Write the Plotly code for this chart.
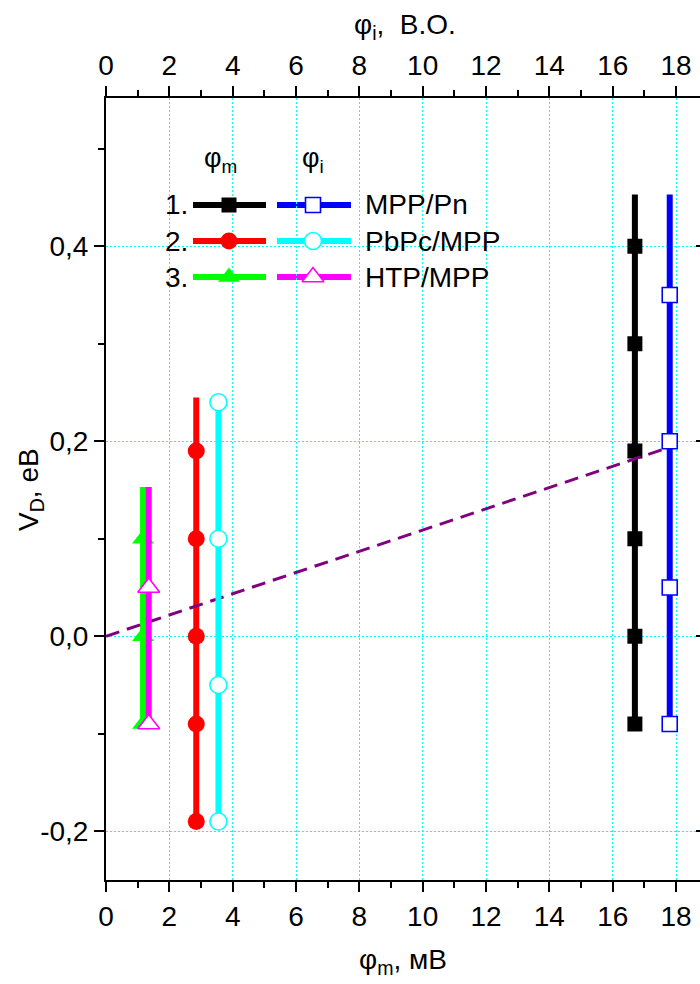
import plotly.graph_objects as go

# ---------------- data ----------------
# phi_m series (bottom axis, filled markers)
m_names = ["1.", "2.", "3."]
m_x = [16.7, 2.85, 1.17]
m_vals = [
    [0.40, 0.30, 0.19, 0.10, 0.00, -0.09],
    [0.19, 0.10, 0.00, -0.09, -0.19],
    [0.10, 0.00, -0.09],
]
m_top = [0.453, 0.245, 0.153]

# phi_i series (top axis, hollow markers)
i_labels = ["MPP/Pn", "PbPc/MPP", "HTP/MPP"]
i_x = [17.8, 3.55, 1.35]
i_vals = [
    [0.35, 0.20, 0.05, -0.09],
    [0.24, 0.10, -0.05, -0.19],
    [0.05, -0.09],
]
i_top = [0.453, 0.24, 0.153]

# dashed guide line
fit_x = [0.0, 17.9]
fit_y = [0.0, 0.195]

x_ticks = [0, 2, 4, 6, 8, 10, 12, 14, 16, 18]
y_tickvals = [-0.2, 0.0, 0.2, 0.4]
y_ticktext = ["-0,2", "0,0", "0,2", "0,4"]

# ---------------- styles ----------------
m_colors = ["#000000", "#FF0000", "#00FF00"]
i_colors = ["#0000FF", "#00FFFF", "#FF00FF"]
m_symbols = ["square", "circle", "triangle-up"]
i_symbols = ["square", "circle", "triangle-up"]
sizes = [15, 17, 19]

W, H = 700, 984
L, R, T, B = 106, 0, 98, 104
PX_PER_X = 31.67
XMAX = (W - L - R) / PX_PER_X
YMIN = -0.25
YMAX = YMIN + (H - T - B) / 975.0

def px(xp):
    return (xp - L) / (W - L - R)

def py(yp):
    return (H - B - yp) / (H - T - B)

fig = go.Figure()

for k in range(3):
    xs = [m_x[k]] * (len(m_vals[k]) + 1)
    fig.add_trace(go.Scatter(x=xs, y=[m_top[k]] + m_vals[k], mode="lines",
                             line=dict(color=m_colors[k], width=6),
                             xaxis="x", yaxis="y", showlegend=False))
    fig.add_trace(go.Scatter(x=[m_x[k]] * len(m_vals[k]), y=m_vals[k], mode="markers",
                             marker=dict(symbol=m_symbols[k], size=sizes[k], color=m_colors[k],
                                         line=dict(width=0)),
                             xaxis="x", yaxis="y", showlegend=False))
    xs = [i_x[k]] * (len(i_vals[k]) + 1)
    fig.add_trace(go.Scatter(x=xs, y=[i_top[k]] + i_vals[k], mode="lines",
                             line=dict(color=i_colors[k], width=6),
                             xaxis="x2", yaxis="y", showlegend=False))
    fig.add_trace(go.Scatter(x=[i_x[k]] * len(i_vals[k]), y=i_vals[k], mode="markers",
                             marker=dict(symbol=i_symbols[k], size=sizes[k], color="white",
                                         line=dict(width=1.6, color=i_colors[k])),
                             xaxis="x2", yaxis="y", showlegend=False))

fig.add_trace(go.Scatter(x=fit_x, y=fit_y, mode="lines",
                         line=dict(color="#800080", width=3, dash="14px,8px"),
                         xaxis="x", yaxis="y2", showlegend=False))

# ---------------- legend (custom) ----------------
shapes = [dict(type="rect", xref="paper", yref="paper", x0=px(150), x1=px(560),
               y0=py(300), y1=py(128), fillcolor="white", line=dict(width=0), layer="between")]
annotations = []
rows = [205, 241, 277]
for k in range(3):
    yy = py(rows[k])
    shapes.append(dict(type="line", xref="paper", yref="paper", x0=px(193), x1=px(266),
                       y0=yy, y1=yy, line=dict(color=m_colors[k], width=6), layer="between"))
    shapes.append(dict(type="line", xref="paper", yref="paper", x0=px(277), x1=px(351),
                       y0=yy, y1=yy, line=dict(color=i_colors[k], width=6), layer="between"))
    fig.add_trace(go.Scatter(x=[px(229)], y=[yy], mode="markers",
                             marker=dict(symbol=m_symbols[k], size=sizes[k], color=m_colors[k],
                                         line=dict(width=0)),
                             xaxis="x3", yaxis="y3", showlegend=False))
    fig.add_trace(go.Scatter(x=[px(313)], y=[yy], mode="markers",
                             marker=dict(symbol=i_symbols[k], size=sizes[k], color="white",
                                         line=dict(width=1.6, color=i_colors[k])),
                             xaxis="x3", yaxis="y3", showlegend=False))
    annotations.append(dict(text=m_names[k], xref="paper", yref="paper", x=px(190), y=yy,
                            xanchor="right", yanchor="middle", showarrow=False,
                            font=dict(size=28)))
    annotations.append(dict(text=i_labels[k], xref="paper", yref="paper", x=px(363), y=yy,
                            xanchor="left", yanchor="middle", showarrow=False,
                            font=dict(size=28)))

annotations.append(dict(text="φ<sub>m</sub>", xref="paper", yref="paper", x=px(220), y=py(160),
                        xanchor="center", yanchor="middle", showarrow=False, font=dict(size=27)))
annotations.append(dict(text="φ<sub>i</sub>", xref="paper", yref="paper", x=px(313), y=py(160),
                        xanchor="center", yanchor="middle", showarrow=False, font=dict(size=27)))

# axis titles
annotations.append(dict(text="φ<sub>m</sub>, мВ", xref="paper", yref="paper", x=px(403), y=py(962),
                        xanchor="center", yanchor="middle", showarrow=False, font=dict(size=28)))
annotations.append(dict(text="φ<sub>i</sub>,  B.O.", xref="paper", yref="paper", x=px(405), y=py(27),
                        xanchor="center", yanchor="middle", showarrow=False, font=dict(size=28)))
annotations.append(dict(text="V<sub>D</sub>, eB", xref="paper", yref="paper", x=px(30), y=py(490),
                        xanchor="center", yanchor="middle", showarrow=False, textangle=-90,
                        font=dict(size=28)))

grid = dict(showgrid=True, gridcolor="#00FFFF", gridwidth=1, griddash="2px,2px")
common_x = dict(range=[0, XMAX], tickmode="array", tickvals=x_ticks, ticks="outside",
                ticklen=10, tickwidth=2, tickcolor="black", showline=True, linewidth=2,
                linecolor="black", zeroline=False,
                minor=dict(dtick=1, tick0=0, ticks="outside", ticklen=6, tickwidth=2,
                           tickcolor="black", showgrid=False),
                tickfont=dict(size=28))

fig.update_layout(
    width=W, height=H,
    margin=dict(l=L, r=R, t=T, b=B, pad=0),
    paper_bgcolor="white", plot_bgcolor="white",
    font=dict(family="Liberation Sans, Arial, sans-serif", size=28, color="black"),
    separators=",.",
    showlegend=False,
    xaxis=dict(**common_x, **grid, side="bottom", anchor="y"),
    xaxis2=dict(**common_x, showgrid=False, side="top", overlaying="x", anchor="y"),
    xaxis3=dict(range=[0, 1], overlaying="x", visible=False, showgrid=False),
    yaxis=dict(range=[YMIN, YMAX], tickmode="array", tickvals=y_tickvals, ticktext=y_ticktext,
               ticks="outside", ticklen=10, tickwidth=2, tickcolor="black", showline=True,
               linewidth=2, linecolor="black", zeroline=False, **grid,
               minor=dict(dtick=0.1, tick0=0, ticks="outside", ticklen=6, tickwidth=2,
                          tickcolor="black", showgrid=False),
               tickfont=dict(size=28)),
    yaxis2=dict(range=[YMIN, YMAX], overlaying="y", side="right", anchor="x",
                tickmode="array", tickvals=y_tickvals, showticklabels=False,
                ticks="inside", ticklen=4, tickwidth=2, tickcolor="black",
                showline=False, showgrid=False, zeroline=False),
    yaxis3=dict(range=[0, 1], overlaying="y", visible=False, showgrid=False),
    shapes=shapes,
    annotations=annotations,
)

fig.write_html("out.html", config={"displayModeBar": False},
               post_script="document.body.style.margin='0';document.body.style.overflow='hidden';")
